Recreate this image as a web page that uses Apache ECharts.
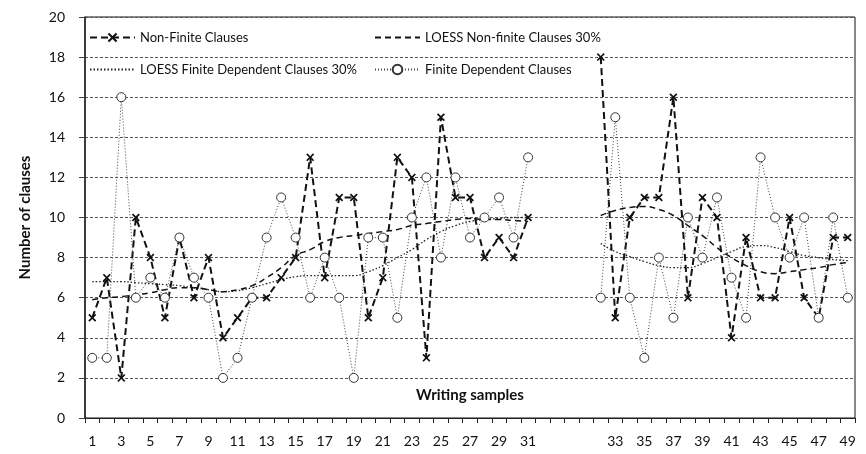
<!DOCTYPE html>
<html>
<head>
<meta charset="utf-8">
<script src="https://cdn.jsdelivr.net/npm/echarts@6/dist/echarts.min.js"></script>
<style>
  html, body { margin: 0; padding: 0; background: #fff; }
  #main { width: 866px; height: 454px; }
</style>
</head>
<body>
<div id="main"></div>
<script>
// samples 1..49, with an empty stretch on the axis between 31 and 32
var leftSamples = [];
for (var i = 1; i <= 31; i++) leftSamples.push(i);
var rightSamples = [];
for (var j = 32; j <= 49; j++) rightSamples.push(j);
var gapSlots = 4;

// values per writing sample (1..49)
var nonFinite = [5, 7, 2, 10, 8, 5, 9, 6, 8, 4,
                 5, 6, 6, 7, 8, 13, 7, 11, 11, 5,
                 7, 13, 12, 3, 15, 11, 11, 8, 9, 8,
                 10, 18, 5, 10, 11, 11, 16, 6, 11, 10,
                 4, 9, 6, 6, 10, 6, 5, 9, 9];
var finiteDep = [3, 3, 16, 6, 7, 6, 9, 7, 6, 2,
                 3, 6, 9, 11, 9, 6, 8, 6, 2, 9,
                 9, 5, 10, 12, 8, 12, 9, 10, 11, 9,
                 13, 6, 15, 6, 3, 8, 5, 10, 8, 11,
                 7, 5, 13, 10, 8, 10, 5, 10, 6];
var loessNonFinite = [5.9, 6.0, 6.05, 6.15, 6.25, 6.4, 6.5, 6.5, 6.4, 6.3,
                      6.4, 6.6, 7.0, 7.5, 8.1, 8.4, 8.8, 9.0, 9.1, 9.2,
                      9.3, 9.4, 9.6, 9.7, 9.8, 9.9, 9.95, 9.9, 9.9, 9.85,
                      9.8, 10.1, 10.35, 10.5, 10.55, 10.4, 10.1, 9.6, 9.1, 8.5,
                      8.0, 7.6, 7.3, 7.2, 7.3, 7.4, 7.5, 7.65, 7.75];
var loessFinite = [6.8, 6.8, 6.8, 6.75, 6.7, 6.65, 6.6, 6.5, 6.4, 6.3,
                   6.35, 6.5, 6.7, 6.9, 7.05, 7.1, 7.1, 7.1, 7.1, 7.3,
                   7.6, 8.0, 8.4, 8.9, 9.3, 9.6, 9.8, 9.9, 9.95, 10.0,
                   10.0, 8.7, 8.3, 8.05, 7.8, 7.6, 7.5, 7.5, 7.7, 8.0,
                   8.3, 8.55, 8.6, 8.5, 8.3, 8.1, 8.0, 7.9, 7.85];

// axis slots: samples, blanks for the gap
var slots = leftSamples.slice();
for (var g = 0; g < gapSlots; g++) slots.push(null);
slots = slots.concat(rightSamples);
var categories = slots.map(function (s) { return s === null ? '' : String(s); });

function onSlots(values) {
  return slots.map(function (s) { return s === null ? null : values[s - 1]; });
}

// bold x marker
var crossPath = 'path://M0,1.5L1.5,0L5,3.5L8.5,0L10,1.5L6.5,5L10,8.5L8.5,10L5,6.5L1.5,10L0,8.5L3.5,5Z';
var font = 'Lato, "Open Sans", sans-serif';

var chart = echarts.init(document.getElementById('main'));

var legendBase = {
  itemWidth: 45,
  itemHeight: 12,
  itemGap: 5,
  textStyle: { fontFamily: font, fontSize: 13, color: '#111' }
};
var noMarker = { opacity: 0 };

var option = {
  backgroundColor: '#fff',
  animation: false,
  grid: {
    left: 85, right: 11, top: 17, bottom: 36,
    show: true, borderColor: '#111', borderWidth: 1
  },
  legend: [
    Object.assign({ data: ['Non-Finite Clauses'], left: 84, top: 26 }, legendBase),
    Object.assign({ data: [{ name: 'LOESS Non-finite Clauses 30%', itemStyle: noMarker }], left: 369, top: 26 }, legendBase),
    Object.assign({ data: [{ name: 'LOESS Finite Dependent Clauses 30%', itemStyle: noMarker }], left: 84, top: 58 }, legendBase),
    Object.assign({ data: ['Finite Dependent Clauses'], left: 369, top: 58 }, legendBase)
  ],
  xAxis: {
    type: 'category',
    data: categories,
    boundaryGap: true,
    name: 'Writing samples',
    nameLocation: 'middle',
    nameGap: -30,
    nameTextStyle: { fontFamily: font, fontSize: 15, fontWeight: 'bold', color: '#111' },
    axisLine: { lineStyle: { color: '#222', width: 1 } },
    axisTick: { show: true, interval: 0, length: 5, lineStyle: { color: '#222' } },
    axisLabel: { interval: 1, margin: 16, fontFamily: font, fontSize: 14, color: '#111' },
    splitLine: { show: false }
  },
  yAxis: {
    type: 'value',
    min: 0, max: 20, interval: 2,
    name: 'Number of clauses',
    nameLocation: 'middle',
    nameGap: 52,
    nameTextStyle: { fontFamily: font, fontSize: 15, fontWeight: 'bold', color: '#111' },
    axisLine: { show: true, lineStyle: { color: '#222', width: 1.5 } },
    axisTick: { show: true, length: 6, lineStyle: { color: '#444' } },
    axisLabel: { margin: 20, fontFamily: font, fontSize: 14, color: '#111' },
    splitLine: { lineStyle: { color: '#555', width: 1, type: [3, 2] } }
  },
  series: [
    {
      name: 'Non-Finite Clauses',
      type: 'line',
      data: onSlots(nonFinite),
      connectNulls: false,
      symbol: crossPath,
      symbolSize: 8,
      itemStyle: { color: '#111' },
      lineStyle: { color: '#111', width: 2, type: [7, 4] },
      z: 4
    },
    {
      name: 'LOESS Non-finite Clauses 30%',
      type: 'line',
      data: onSlots(loessNonFinite),
      connectNulls: false,
      smooth: true,
      symbol: 'none',
      itemStyle: { color: '#111' },
      lineStyle: { color: '#111', width: 1.5, type: [6, 4] },
      z: 3
    },
    {
      name: 'LOESS Finite Dependent Clauses 30%',
      type: 'line',
      data: onSlots(loessFinite),
      connectNulls: false,
      smooth: true,
      symbol: 'none',
      itemStyle: { color: '#222' },
      lineStyle: { color: '#222', width: 1.3, type: [1.5, 2] },
      z: 3
    },
    {
      name: 'Finite Dependent Clauses',
      type: 'line',
      data: onSlots(finiteDep),
      connectNulls: false,
      symbol: 'circle',
      symbolSize: 9,
      itemStyle: { color: '#fff', borderColor: '#333', borderWidth: 1 },
      lineStyle: { color: '#444', width: 1, type: [1, 2] },
      z: 5
    }
  ]
};

chart.setOption(option);
</script>
</body>
</html>
